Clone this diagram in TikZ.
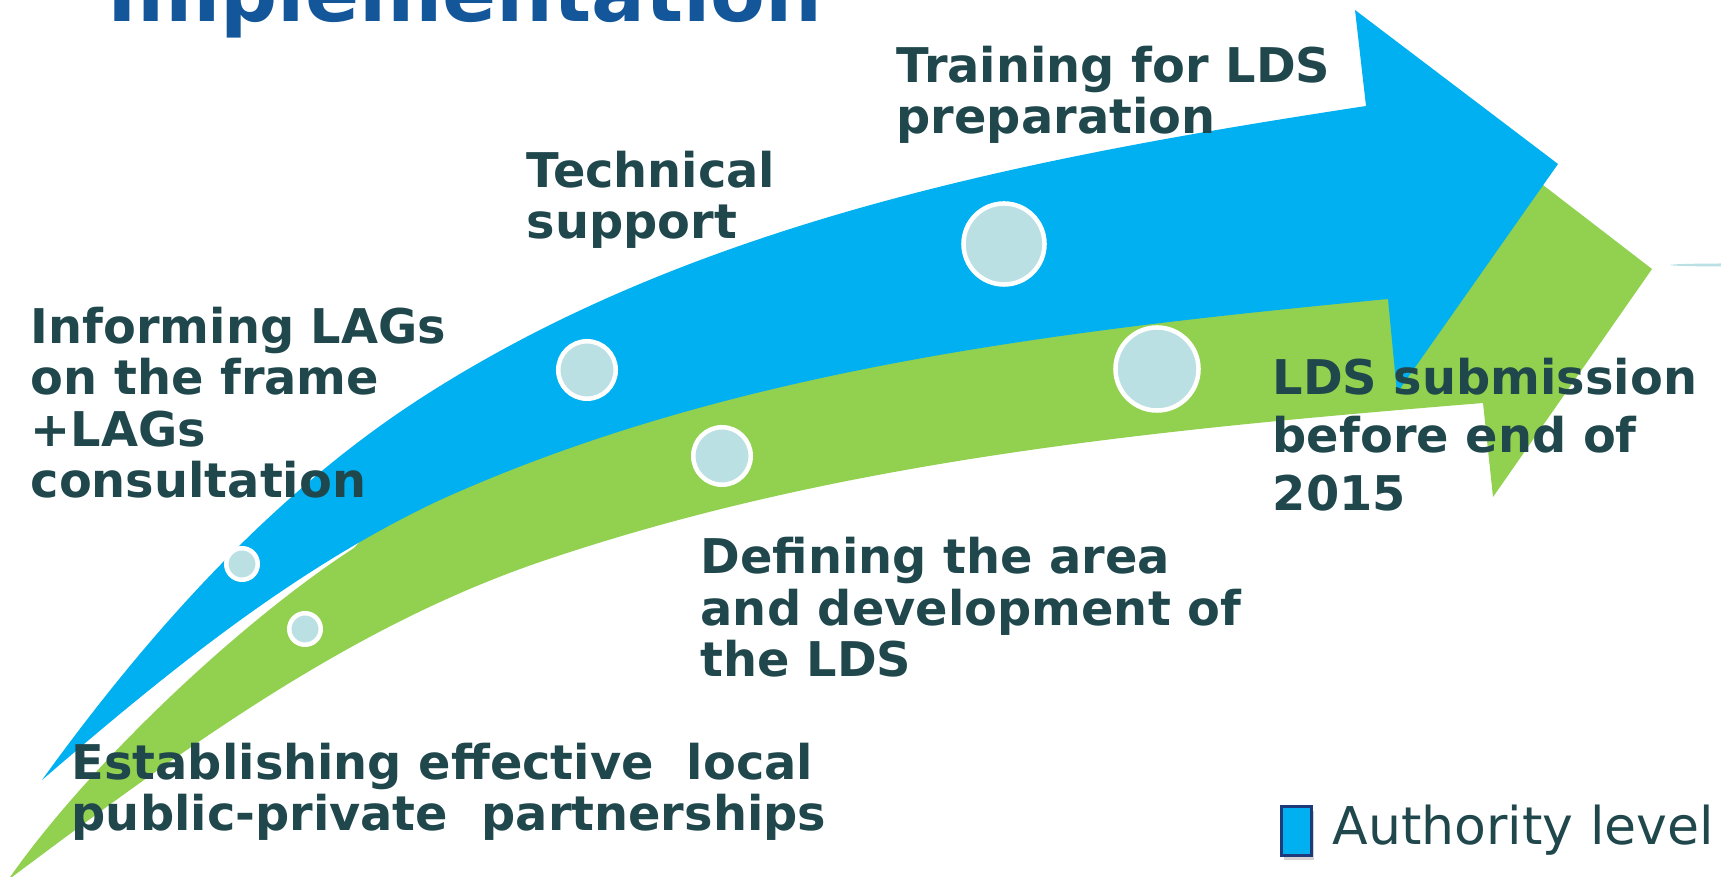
\documentclass[tikz,border=0pt]{standalone}
\usepackage{fontspec}
\setmainfont{DejaVu Sans}
\usepackage{tikz}
\usetikzlibrary{shadows}
\definecolor{arrowblue}{HTML}{00B0F0}
\definecolor{arrowgreen}{HTML}{92D050}
\definecolor{dotfill}{HTML}{BBE0E3}
\definecolor{textdark}{HTML}{1F474C}
\definecolor{titleblue}{HTML}{14569A}
\definecolor{legendline}{HTML}{1F3A7A}
\tikzset{%
  stagetext/.style = {anchor=base west, inner sep=0pt, align=left, text=textdark,
    font=\bfseries\fontsize{13.6}{14.65}\selectfont}, % step captions (placed by last line)
  widetext/.style  = {stagetext, font=\bfseries\fontsize{13.6}{16.6}\selectfont},
  heading/.style   = {anchor=base west, inner sep=0pt, text=titleblue,
    font=\bfseries\fontsize{22.7}{26}\selectfont},
  milestone/.style = {circle, draw=white, fill=dotfill, line width=0.045cm,
    inner sep=0pt}, % marker on an arrow
  legendbox/.style = {draw=legendline, fill=arrowblue, line width=0.6pt,
    minimum width=0.3cm, minimum height=0.49cm, inner sep=0pt,
    drop shadow={shadow xshift=0.6pt, shadow yshift=-1.2pt, opacity=0.35}}
}

\begin{document}
\begin{tikzpicture}[x=0.01cm, y=-0.01cm]
\useasboundingbox (0,0) rectangle (1721,877);

	% lower (green) arrow, its upper edge runs on under the blue one
	\fill[arrowgreen] (8,880) .. controls (88,765) and (240,622) .. (354,548)
		-- (380,520) -- (500,440) -- (800,350) -- (1100,300) -- (1471,288)
		-- (1452,115) -- (1652,269) -- (1493,497) -- (1483,403)
		.. controls (1165,429) and (842,459) .. (540,562)
		.. controls (344,629) and (174,756) .. (8,880) -- cycle;

	% upper (blue) arrow
	\fill[arrowblue] (42,780) .. controls (146,636) and (269,497) .. (418,400)
		.. controls (695,220) and (1039,156) .. (1366,106)
		-- (1355,10) -- (1558,164) -- (1397,393) -- (1388,299)
		.. controls (1066,330) and (732,368) .. (440,500)
		.. controls (293,569) and (165,674) .. (42,780) -- cycle;

	\fill[dotfill] (1725,265) ellipse (55 and 1.5);

	\draw node at (242,564) [milestone, minimum size=0.315cm] (m1) {};
	\draw node at (305,629) [milestone, minimum size=0.315cm] (m2) {};
	\draw node at (587,370) [milestone, minimum size=0.575cm] (m3) {};
	\draw node at (722,456) [milestone, minimum size=0.575cm] (m4) {};
	\draw node at (1004,244) [milestone, minimum size=0.81cm] (m5) {};
	\draw node at (1157,369) [milestone, minimum size=0.83cm] (m6) {};

	\draw node at (107,22) [heading] (title) {Implementation};

	\draw node at (30,498) [stagetext] (informing) {Informing LAGs\\on the frame\\+LAGs\\consultation};
	\draw node at (526,239) [stagetext] (support) {Technical\\support};
	\draw node at (896,134) [stagetext] (training) {Training for LDS\\preparation};
	\draw node at (1272,511) [widetext] (submission) {LDS submission\\before end of\\2015};
	\draw node at (700,677) [stagetext] (defining) {Defining the area\\and development of\\the LDS};
	\draw node at (71,831) [stagetext] (partners) {Establishing effective\ \ local\\public-private\ \ partnerships};

	\draw node at (1296.5,831) [legendbox] (legendkey) {};
	\draw node at (1332,845) [anchor=base west, inner sep=0pt, text=textdark,
		font=\fontsize{14.8}{18}\selectfont] (legendtext) {Authority level};

\end{tikzpicture}
\end{document}
